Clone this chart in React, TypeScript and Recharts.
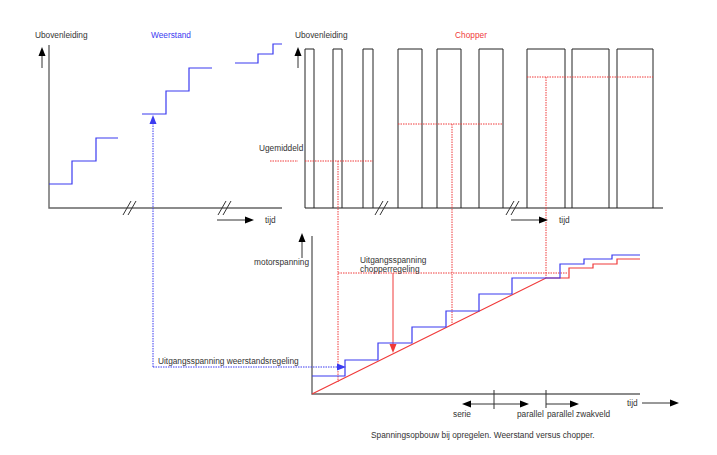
import React from 'react'
import { ComposedChart, Line, Scatter, XAxis, YAxis } from 'recharts'

const W = 717
const H = 455

const BLUE = '#3b3bf0'
const RED = '#f03a3a'
const AXIS = '#666'
const INK = '#333'

// weerstandsregeling: trapgrenzen (x) en niveaus (y), per blok tussen de onderbrekingen
const weerstandSteps = [
  { xs: [49, 72, 96, 118], levels: [184, 161, 138] },
  { xs: [142, 166, 189, 212], levels: [114, 91, 68] },
  { xs: [235, 258, 273, 282], levels: [63, 54, 44] },
]

// chopper: pulsen [begin, eind]
const chopperPulses = [
  [305, 314], [333, 342], [363, 373],
  [398, 422], [437, 461], [479, 503],
  [527, 565], [572, 609], [617, 653],
]
const pulseTop = 49
const pulseBase = 208

// gemiddelde spanning per blok: horizontaal [van, tot, niveau], verticaal [x, van, tot]
const avgLevels = [
  [305, 373, 161],
  [398, 503, 124],
  [527, 653, 77],
]
const avgDrops = [
  [338, 161, 382],
  [452, 124, 325],
  [546, 77, 278],
]

// motorspanning
const motorBlueXs = [312, 345, 378, 412, 446, 479, 512, 560, 584, 612, 640]
const motorBlueLevels = [376, 360, 343, 327, 311, 294, 278, 264, 259, 255]
const motorRedRamp = [[312, 394], [546, 278]]
const motorRedXs = [546, 569, 593, 617, 640]
const motorRedLevels = [278, 268, 264, 259]

// onderbrekingstekens (//) op de tijdas
const breakMarks = [[130, 208], [225, 208], [382, 208], [513, 208]]

type Pt = { x: number; y: number }
type Seg = { pts: Pt[]; color: string; width?: number; dash?: string }

const toPts = (arr: number[][]): Pt[] => arr.map(([x, y]) => ({ x, y }))

const stepPts = (xs: number[], levels: number[]): Pt[] => {
  const out: Pt[] = []
  levels.forEach((lv, i) => {
    out.push({ x: xs[i], y: lv })
    out.push({ x: xs[i + 1], y: lv })
  })
  return out
}

const segments: Seg[] = [
  // assen
  { pts: toPts([[49, 45], [49, 208], [282, 208]]), color: AXIS, width: 1.4 },
  { pts: toPts([[305, 208], [663, 208]]), color: AXIS, width: 1.4 },
  { pts: toPts([[312, 236], [312, 394], [640, 394]]), color: AXIS, width: 1.4 },
  { pts: toPts([[494, 390], [494, 409]]), color: INK },
  { pts: toPts([[546, 390], [546, 408]]), color: INK },
  // pijlstelen
  { pts: toPts([[42, 68], [42, 50]]), color: INK },
  { pts: toPts([[298, 68], [298, 50]]), color: INK },
  { pts: toPts([[302, 258], [302, 236]]), color: INK },
  { pts: toPts([[217, 220], [246, 220]]), color: INK },
  { pts: toPts([[511, 220], [540, 220]]), color: INK },
  { pts: toPts([[642, 403], [671, 403]]), color: INK },
  { pts: toPts([[494, 404], [469, 404]]), color: INK },
  { pts: toPts([[494, 404], [521, 404]]), color: INK },
  { pts: toPts([[546, 404], [571, 404]]), color: INK },
  // weerstand trappen
  ...weerstandSteps.map((s) => ({ pts: stepPts(s.xs, s.levels), color: BLUE, width: 1.2 })),
  // chopper pulsen
  ...chopperPulses.map(([a, b]) => ({
    pts: toPts([[a, pulseBase], [a, pulseTop], [b, pulseTop], [b, pulseBase]]),
    color: '#222',
  })),
  // gemiddelde spanning
  { pts: toPts([[270, 161], [298, 161]]), color: RED, dash: '1.5 1' },
  ...avgLevels.map(([a, b, lv]) => ({ pts: toPts([[a, lv], [b, lv]]), color: RED, dash: '1.5 1' })),
  ...avgDrops.map(([x, a, b]) => ({ pts: toPts([[x, a], [x, b]]), color: RED, dash: '1.5 1' })),
  { pts: toPts([[338, 273], [568, 273]]), color: RED, dash: '1.5 1' },
  // uitgangsspanning pijlen
  { pts: toPts([[393, 273], [393, 345]]), color: RED },
  { pts: toPts([[153, 367], [153, 122]]), color: BLUE, dash: '1.5 1' },
  { pts: toPts([[153, 367], [339, 367]]), color: BLUE, dash: '1.5 1' },
  // motorspanning
  { pts: [...toPts(motorRedRamp), ...stepPts(motorRedXs, motorRedLevels)], color: RED, width: 1.2 },
  { pts: stepPts(motorBlueXs, motorBlueLevels), color: BLUE, width: 1.2 },
  // onderbrekingen
  ...breakMarks.flatMap(([x, y]) => [
    { pts: toPts([[x - 7, y + 7], [x + 1, y - 7]]), color: INK },
    { pts: toPts([[x - 2, y + 7], [x + 6, y - 7]]), color: INK },
  ]),
]

type Head = { x: number; y: number; dir: 'up' | 'down' | 'left' | 'right'; color: string }

const arrowHeads: Head[] = [
  { x: 42, y: 47, dir: 'up', color: '#000' },
  { x: 298, y: 47, dir: 'up', color: '#000' },
  { x: 302, y: 233, dir: 'up', color: '#000' },
  { x: 254, y: 220, dir: 'right', color: '#000' },
  { x: 548, y: 220, dir: 'right', color: '#000' },
  { x: 679, y: 403, dir: 'right', color: '#000' },
  { x: 462, y: 404, dir: 'left', color: '#000' },
  { x: 529, y: 404, dir: 'right', color: '#000' },
  { x: 579, y: 404, dir: 'right', color: '#000' },
  { x: 393, y: 353, dir: 'down', color: RED },
  { x: 153, y: 115, dir: 'up', color: BLUE },
  { x: 346, y: 367, dir: 'right', color: BLUE },
]

type Label = { x: number; y: number; text: string; anchor?: 'start' | 'middle' | 'end'; color?: string }

const labels: Label[] = [
  { x: 35, y: 35, text: 'Ubovenleiding' },
  { x: 171, y: 35, text: 'Weerstand', anchor: 'middle', color: BLUE },
  { x: 295, y: 35, text: 'Ubovenleiding' },
  { x: 471, y: 35, text: 'Chopper', anchor: 'middle', color: RED },
  { x: 259, y: 148, text: 'Ugemiddeld' },
  { x: 265, y: 220, text: 'tijd' },
  { x: 559, y: 220, text: 'tijd' },
  { x: 309, y: 262, text: 'motorspanning', anchor: 'end' },
  { x: 360, y: 260, text: 'Uitgangsspanning' },
  { x: 360, y: 269, text: 'chopperregeling' },
  { x: 158, y: 361, text: 'Uitgangsspanning weerstandsregeling' },
  { x: 453, y: 414, text: 'serie' },
  { x: 517, y: 414, text: 'parallel' },
  { x: 547, y: 414, text: 'parallel zwakveld' },
  { x: 627, y: 403, text: 'tijd' },
  { x: 371, y: 435, text: 'Spanningsopbouw bij opregelen. Weerstand versus chopper.' },
]

const rot = { up: 0, right: 90, down: 180, left: 270 }

const HeadShape = (props: any) => {
  const { cx, cy, payload } = props
  if (cx == null || cy == null) return null
  return (
    <polygon
      points={`${cx},${cy} ${cx - 3.5},${cy + 9} ${cx + 3.5},${cy + 9}`}
      fill={payload.color}
      transform={`rotate(${rot[payload.dir as keyof typeof rot]} ${cx} ${cy})`}
    />
  )
}

const LabelShape = (props: any) => {
  const { cx, cy, payload } = props
  if (cx == null || cy == null) return null
  return (
    <text
      x={cx}
      y={cy}
      textAnchor={payload.anchor || 'start'}
      dominantBaseline="central"
      fontSize={8.3}
      fontFamily="'Liberation Sans', Arial, sans-serif"
      fill={payload.color || INK}
    >
      {payload.text}
    </text>
  )
}

export default function App() {
  return (
    <div style={{ position: 'absolute', left: 0, top: 0, width: W, height: H, background: '#fff' }}>
      <ComposedChart width={W} height={H} margin={{ top: 0, right: 0, bottom: 0, left: 0 }}>
        <XAxis type="number" dataKey="x" domain={[0, W]} allowDataOverflow hide />
        <YAxis type="number" dataKey="y" domain={[0, H]} allowDataOverflow reversed hide />
        {segments.map((s, i) => (
          <Line
            key={`s${i}`}
            data={s.pts}
            dataKey="y"
            stroke={s.color}
            strokeWidth={s.width ?? 1}
            strokeDasharray={s.dash}
            dot={false}
            activeDot={false}
            isAnimationActive={false}
          />
        ))}
        <Scatter data={arrowHeads} dataKey="y" shape={HeadShape} isAnimationActive={false} />
        <Scatter data={labels} dataKey="y" shape={LabelShape} isAnimationActive={false} />
      </ComposedChart>
    </div>
  )
}
